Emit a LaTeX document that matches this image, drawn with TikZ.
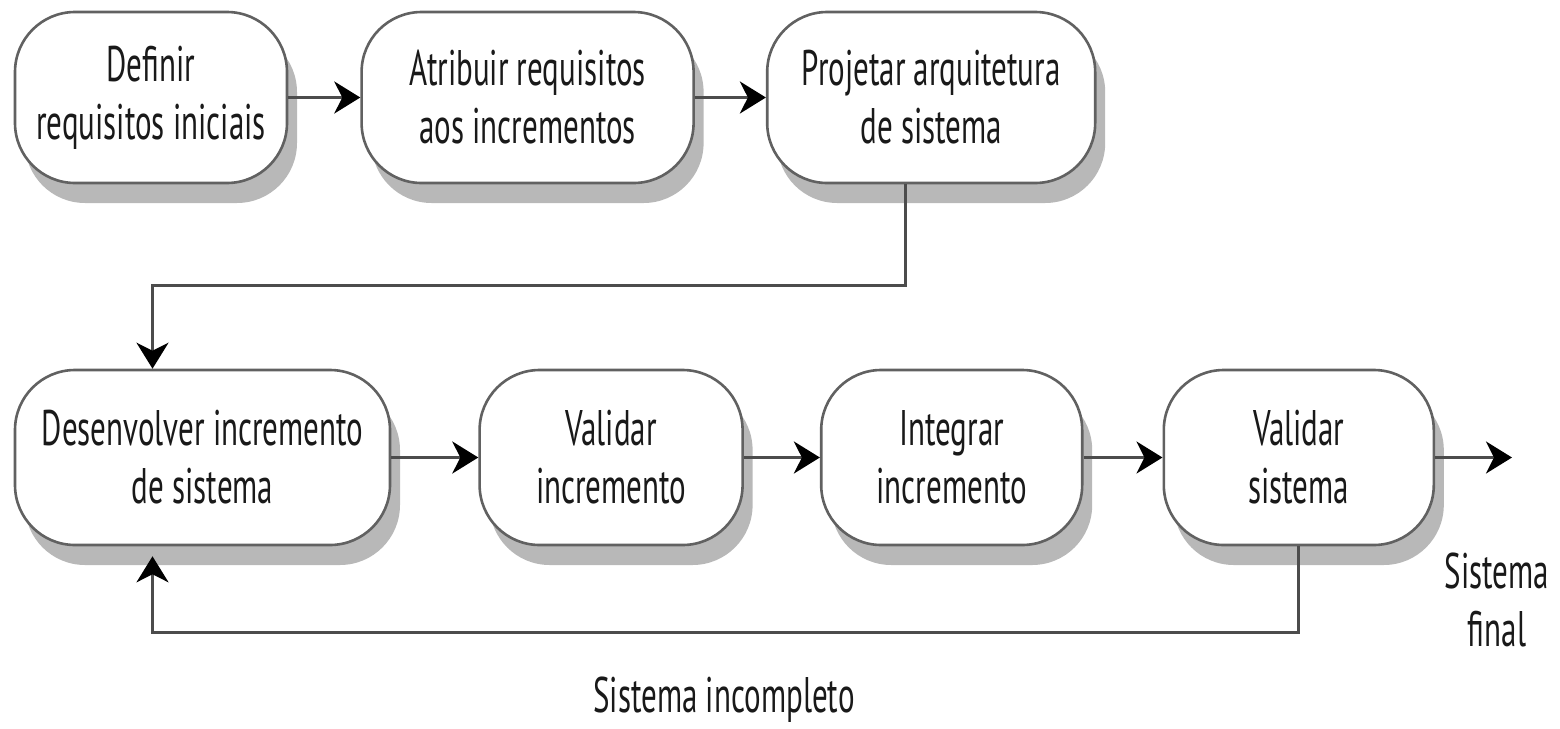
\documentclass[tikz,border=0pt]{standalone}
\usepackage{fontspec}
\setmainfont[FakeStretch=0.62]{PT Sans}
\usetikzlibrary{shapes.geometric, arrows.meta, positioning, shadows}
\tikzset{
    process/.style={rectangle, rounded corners=30pt, draw=black!62, line width=1.3pt, fill=white,
        align=center, text=black!90, font=\fontsize{25}{29}\selectfont,
        drop shadow={shadow xshift=5pt, shadow yshift=-10pt, fill=black!28, opacity=1}},
    rowone/.style={process, minimum height=85.5pt},
    rowtwo/.style={process, minimum height=87.5pt},
    label/.style={align=center, text=black!90, font=\fontsize{25}{29}\selectfont},
    arrow/.style={-{Stealth[length=13pt, width=16pt, inset=4pt, black]}, draw=black!70, line width=1.5pt},
    line/.style={draw=black!70, line width=1.5pt}
}

\begin{document}
\begin{tikzpicture}[x=0.5pt, y=-0.5pt]
    \useasboundingbox (0,0) rectangle (1560,729);

    % Top row
    \node[rowone, minimum width=136pt] (define_req) at (151,97.5) {Definir\\requisitos iniciais};
    \node[rowone, minimum width=166pt, right=36pt of define_req] (assign_req) {Atribuir requisitos\\aos incrementos};
    \node[rowone, minimum width=164pt, right=35.5pt of assign_req] (design_arch) {Projetar arquitetura\\de sistema};

    % Bottom row
    \node[rowtwo, minimum width=187.5pt] (develop_inc) at (202.5,457.5) {Desenvolver incremento\\de sistema};
    \node[rowtwo, minimum width=131.5pt, right=43.5pt of develop_inc] (validate_inc) {Validar\\incremento};
    \node[rowtwo, minimum width=130.5pt, right=38pt of validate_inc] (integrate_inc) {Integrar\\incremento};
    \node[rowtwo, minimum width=135pt, right=39.5pt of integrate_inc] (validate_sys) {Validar\\sistema};

    % Labels
    \node[label] (final_sys) at (1497,600) {Sistema\\final};
    \node[label] (partial_sys) at (724,700) {Sistema incompleto};

    % Helper points
    \coordinate (down_bend) at (500,285);
    \coordinate (loop_bend) at (700,632);
    \coordinate (final_out) at (1512,457.5);

    % Lines
    \draw[arrow] (define_req) -- (assign_req);
    \draw[arrow] (assign_req) -- (design_arch);
    \draw[arrow] ([xshift=-13pt]design_arch.south) |- (down_bend) -| ([xshift=-25pt]develop_inc.north);
    \draw[arrow] (develop_inc) -- (validate_inc);
    \draw[arrow] (validate_inc) -- (integrate_inc);
    \draw[arrow] (integrate_inc) -- (validate_sys);
    \draw[arrow] (validate_sys) -- (final_out);
    \draw[arrow] (validate_sys.south) |- (loop_bend) -| ([xshift=-25pt, yshift=-5pt]develop_inc.south);
\end{tikzpicture}
\end{document}
